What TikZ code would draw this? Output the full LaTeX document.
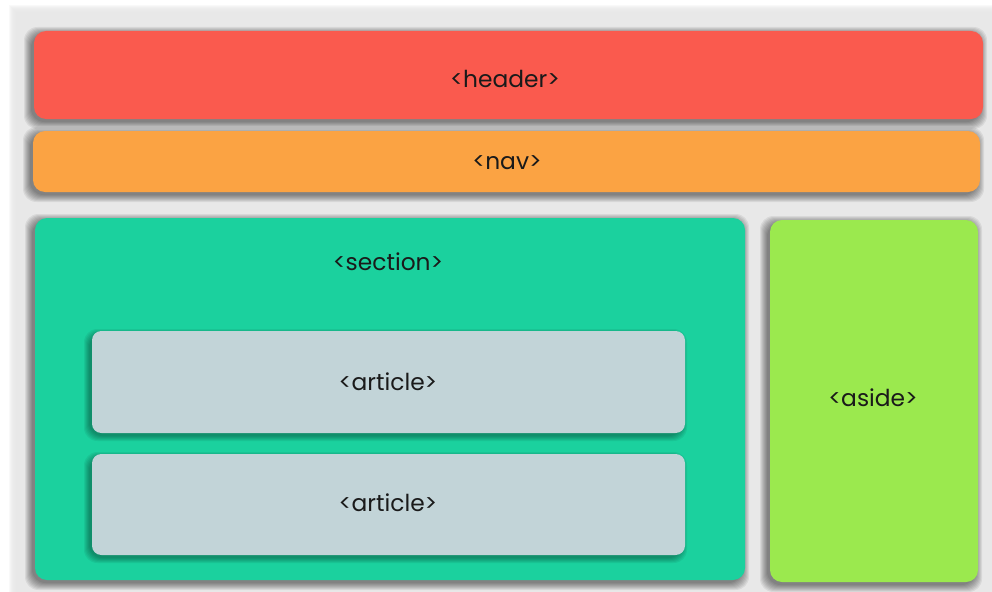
\documentclass[tikz,border=0pt]{standalone}
\usepackage{fontspec}
\setmainfont{Poppins}
\usetikzlibrary{fit}
\definecolor{bgc}{HTML}{E8E8E8}
\definecolor{hdr}{HTML}{FA5A4E}
\definecolor{navc}{HTML}{FBA343}
\definecolor{secc}{HTML}{1BD19E}
\definecolor{asidec}{HTML}{9BE94E}
\definecolor{artc}{HTML}{C2D4D8}
\definecolor{txt}{HTML}{1A1A1A}
\newcommand\softshadow[6]{% x1 y1 x2 y2 spread opacity
  \foreach \k in {1,...,#5} {
    \fill[black, opacity=#6, rounded corners=10pt]
      ({#1-3-#5+\k},{#2+3-#5+\k}) rectangle ({#3-3+#5-\k},{#4+3+#5-\k});
  }}
\tikzset{
  box/.style={rectangle, rounded corners=9pt, inner sep=0pt, draw=none},
  artbox/.style={rectangle, rounded corners=7pt, inner sep=0pt, draw=none},
  lbl/.style={font=\fontsize{17.5}{20}\selectfont, text=txt, inner sep=0pt, anchor=base}
}
\begin{document}
\begin{tikzpicture}[x=0.75pt,y=-0.75pt]
\useasboundingbox (0,0) rectangle (992,592);
\fill[white] (0,0) rectangle (992,592);
\foreach \k in {1,...,10} {
  \fill[bgc, opacity=0.25] ({8+\k},{4+\k}) rectangle (992,592);
}
\fill[bgc] (19,15) rectangle (992,592);
% header
\softshadow{34}{31}{983}{119}{8}{0.065}
\node[box, fill=hdr, fit={(34,31) (983,119)}] (header) {};
\node[lbl] (hdrlbl) at (505,88) {<header>};
% nav
\softshadow{33}{131}{980}{192}{8}{0.065}
\node[box, fill=navc, fit={(33,131) (980,192)}] (nav) {};
\node[lbl] (navlbl) at (507,169) {<nav>};
% section
\softshadow{35}{218}{745}{580}{8}{0.065}
\node[box, fill=secc, fit={(35,218) (745,580)}] (section) {};
\node[lbl] (seclbl) at (388,270) {<section>};
% aside
\softshadow{770}{220}{978}{582}{8}{0.065}
\node[box, fill=asidec, fit={(770,220) (978,582)}] (aside) {};
\node[lbl] (asidelbl) at (873,406) {<aside>};
% articles
\softshadow{92}{331}{685}{433}{6}{0.06}
\node[artbox, fill=artc, fit={(92,331) (685,433)}] (art1) {};
\node[lbl] (art1lbl) at (388,390) {<article>};
\softshadow{92}{454}{685}{555}{6}{0.06}
\node[artbox, fill=artc, fit={(92,454) (685,555)}] (art2) {};
\node[lbl] (art2lbl) at (388,511) {<article>};
\end{tikzpicture}
\end{document}
